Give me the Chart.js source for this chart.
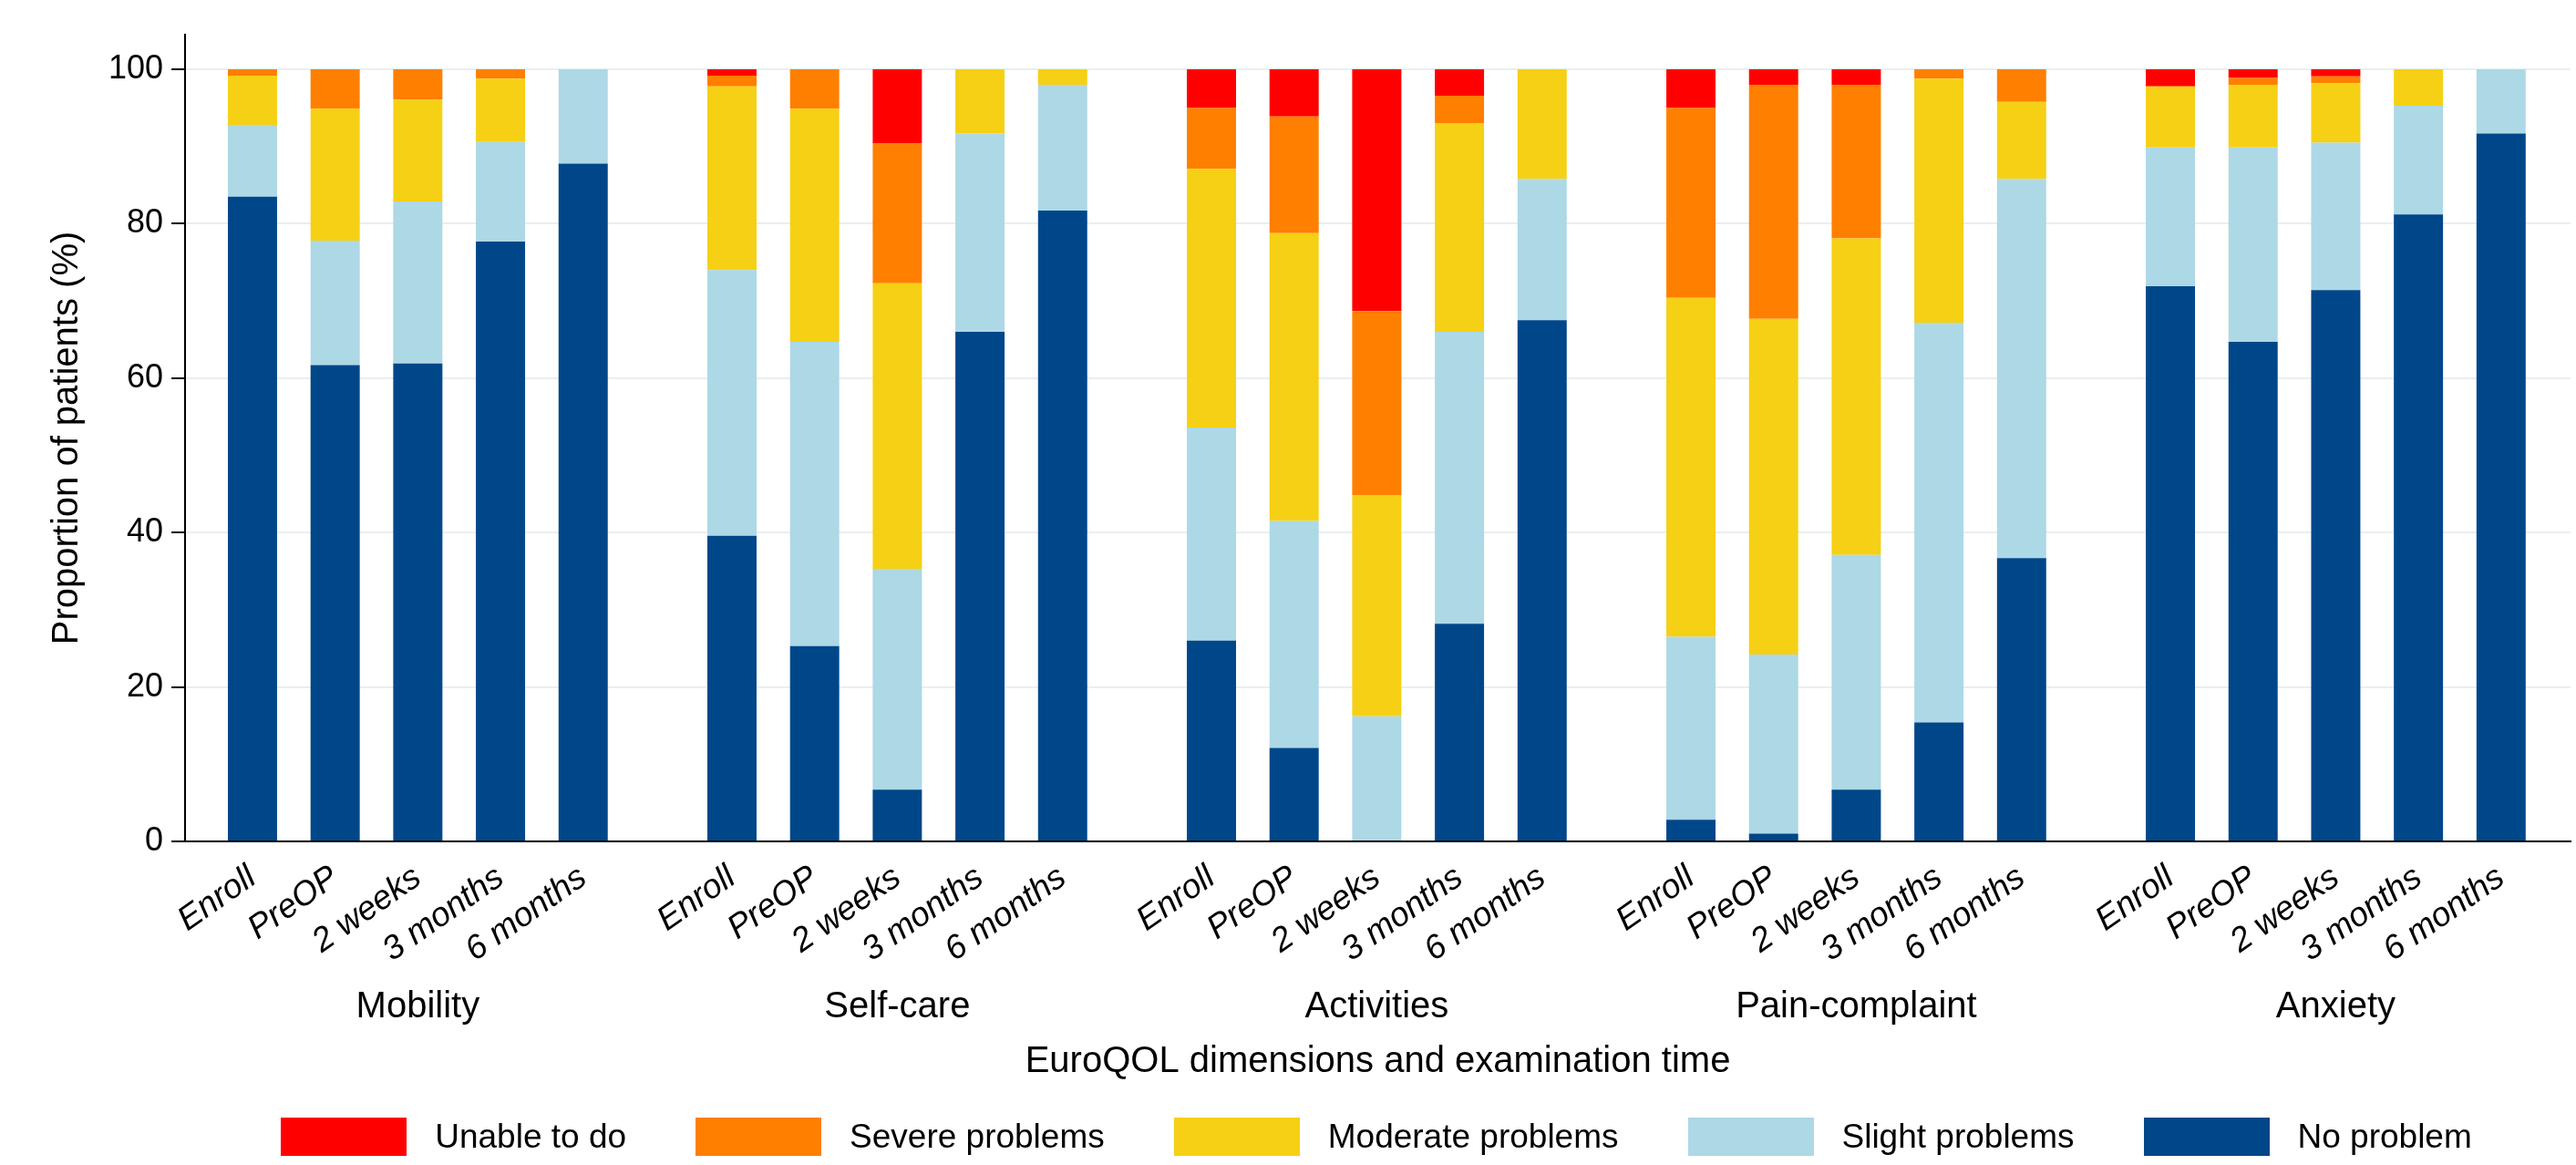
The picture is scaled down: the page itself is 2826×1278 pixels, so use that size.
<!DOCTYPE html>
<html>
<head>
<meta charset="utf-8">
<script src="https://cdn.jsdelivr.net/npm/chart.js@4.4.0/dist/chart.umd.min.js"></script>
<style>
  html, body { margin: 0; padding: 0; background: #fff; }
  #wrap { position: relative; width: 2826px; height: 1278px; font-family: "Liberation Sans", Arial, sans-serif; }
  #legend { position: absolute; left: 200px; width: 2620px; top: 1226px; display: flex; justify-content: center; }
  .item { display: flex; align-items: center; margin: 0 38px; }
  .box { width: 138px; height: 42px; margin-right: 31px; }
  .lbl { font-size: 37px; color: #000; }
</style>
</head>
<body>
<div id="wrap">
  <canvas id="chart"></canvas>
  <div id="legend"></div>
</div>
<script>
// dimensions x time points, values in %
const dimensions = ['Mobility', 'Self-care', 'Activities', 'Pain-complaint', 'Anxiety'];
const times = ['Enroll', 'PreOP', '2 weeks', '3 months', '6 months'];
const yTicks = [0, 20, 40, 60, 80, 100];

const noProblem = [83.5, 61.7, 61.9, 77.7, 87.8, 39.6, 25.3, 6.7, 66.0, 81.7, 26.0, 12.1, 0, 28.2, 67.5, 2.8, 1.0, 6.7, 15.4, 36.7, 71.9, 64.7, 71.4, 81.2, 91.7];
const slight    = [9.3, 16.1, 21.0, 12.9, 12.2, 34.4, 39.4, 28.6, 25.7, 16.3, 27.6, 29.4, 16.2, 37.8, 18.3, 23.7, 23.2, 30.4, 51.8, 49.1, 18.0, 25.2, 19.1, 14.1, 8.3];
const moderate  = [6.4, 17.1, 13.2, 8.2, 0, 23.8, 30.2, 37.0, 8.3, 2.0, 33.5, 37.3, 28.6, 27.0, 14.2, 43.9, 43.5, 41.0, 31.6, 10.0, 7.9, 8.1, 7.7, 4.7, 0];
const severe    = [0.8, 5.1, 3.9, 1.2, 0, 1.4, 5.1, 18.1, 0, 0, 7.9, 15.1, 23.9, 3.6, 0, 24.6, 30.3, 19.9, 1.2, 4.2, 0, 0.9, 0.9, 0, 0];
const unable    = [0, 0, 0, 0, 0, 0.8, 0, 9.6, 0, 0, 5.0, 6.1, 31.3, 3.4, 0, 5.0, 2.0, 2.0, 0, 0, 2.2, 1.1, 0.9, 0, 0];

// bottom to top
const series = [
  { label: 'No problem', data: noProblem, color: '#00478a' },
  { label: 'Slight problems', data: slight, color: '#add8e6' },
  { label: 'Moderate problems', data: moderate, color: '#f6d014' },
  { label: 'Severe problems', data: severe, color: '#ff7f00' },
  { label: 'Unable to do', data: unable, color: '#ff0000' }
];

const GROUP_STEP = 5.8; // one extra gap between dimensions
const xPos = [], xLabels = [];
dimensions.forEach((d, g) => times.forEach((t, i) => { xPos.push(g * GROUP_STEP + i); xLabels.push(t); }));
const groupPos = dimensions.map((d, g) => g * GROUP_STEP + (times.length - 1) / 2);
const X_MIN = -0.815, X_MAX = 28.04;

const FONT = '"Liberation Sans", Arial, sans-serif';

new Chart(document.getElementById('chart'), {
  type: 'bar',
  data: {
    datasets: series.map(s => ({
      label: s.label,
      data: s.data.map((v, k) => ({ x: xPos[k], y: v })),
      backgroundColor: s.color,
      borderWidth: 0,
      barPercentage: 0.595,
      categoryPercentage: 1
    }))
  },
  options: {
    responsive: true,
    maintainAspectRatio: false,
    devicePixelRatio: 1,
    animation: false,
    layout: { padding: { top: 38, right: 6, bottom: 89, left: 20 } },
    plugins: { legend: { display: false }, tooltip: { enabled: false } },
    scales: {
      x: {
        type: 'linear', stacked: true, offset: false, min: X_MIN, max: X_MAX, weight: 0,
        afterBuildTicks: ax => { ax.ticks = xPos.map(v => ({ value: v })); },
        afterFit: ax => { ax.height = 129; },
        grid: { display: false, offset: false },
        border: { display: true, color: '#000', width: 2 },
        ticks: {
          autoSkip: false, minRotation: 35, maxRotation: 35, padding: 10, color: '#000',
          font: { family: FONT, size: 37, style: 'italic' },
          callback: (v, i) => xLabels[i]
        }
      },
      x2: {
        type: 'linear', position: 'bottom', min: X_MIN, max: X_MAX, weight: 1, offset: false,
        afterBuildTicks: ax => { ax.ticks = groupPos.map(v => ({ value: v })); },
        afterFit: ax => { ax.height = 137; },
        grid: { display: false },
        border: { display: false },
        ticks: {
          autoSkip: false, maxRotation: 0, padding: 21, color: '#000',
          font: { family: FONT, size: 40 },
          callback: (v, i) => dimensions[i]
        },
        title: {
          display: true, text: 'EuroQOL dimensions and examination time', color: '#000',
          font: { family: FONT, size: 40 }, padding: { top: 12, bottom: 0 }
        }
      },
      y: {
        stacked: true, min: 0, max: 104.5,
        afterBuildTicks: ax => { ax.ticks = yTicks.map(v => ({ value: v })); },
        grid: { color: '#e8eff2', lineWidth: 2, tickLength: 15, tickColor: '#000', tickWidth: 2 },
        border: { display: true, color: '#000', width: 2 },
        ticks: { padding: 9, color: '#000', font: { family: FONT, size: 36 } },
        title: {
          display: true, text: 'Proportion of patients (%)', color: '#000',
          font: { family: FONT, size: 40 }, padding: { top: 30, bottom: 12 }
        }
      }
    }
  }
});

// legend, top row order as in figure
const legend = document.getElementById('legend');
series.slice().reverse().forEach(s => {
  const it = document.createElement('div');
  it.className = 'item';
  it.innerHTML = `<div class="box" style="background:${s.color}"></div><span class="lbl">${s.label}</span>`;
  legend.appendChild(it);
});
</script>
</body>
</html>
